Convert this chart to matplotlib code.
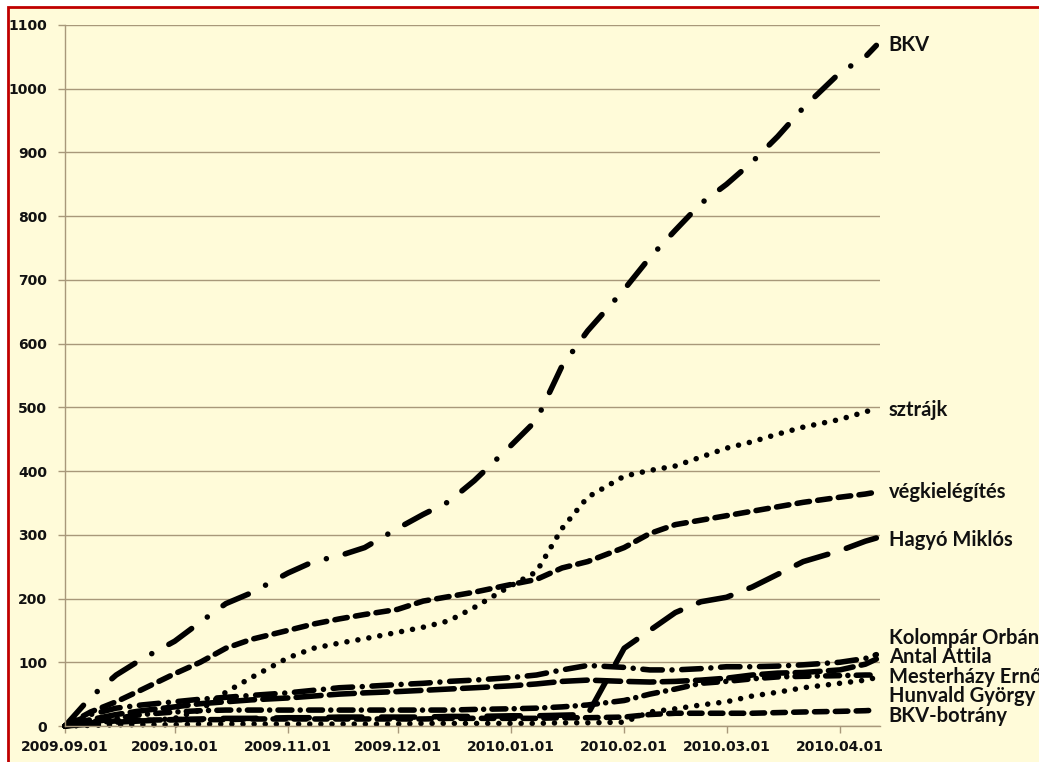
import matplotlib
matplotlib.use("Agg")
import matplotlib.pyplot as plt
import matplotlib.dates as mdates
from matplotlib.patches import Rectangle
import pandas as pd

# Kumulált említések száma (leolvasott értékek)
datumok = ["2009-09-01", "2009-09-08", "2009-09-15", "2009-09-22",
           "2009-10-01", "2009-10-08", "2009-10-15", "2009-10-22",
           "2009-11-01", "2009-11-08", "2009-11-15", "2009-11-22",
           "2009-12-01", "2009-12-08", "2009-12-15", "2009-12-22",
           "2010-01-01", "2010-01-08", "2010-01-15", "2010-01-22",
           "2010-02-01", "2010-02-08", "2010-02-15", "2010-02-22",
           "2010-03-01", "2010-03-08", "2010-03-15", "2010-03-22",
           "2010-04-01", "2010-04-08", "2010-04-11"]

bkv = [0, 45, 80, 105, 133, 163, 192, 209, 240, 258, 267, 280, 310, 332, 352, 385,
       440, 480, 565, 620, 685, 735, 778, 820, 850, 885, 925, 970, 1025, 1050, 1068]
sztrajk = [0, 2, 4, 7, 12, 25, 53, 76, 107, 122, 130, 137, 147, 155, 165, 186,
           220, 242, 310, 359, 392, 401, 408, 422, 436, 446, 458, 469, 481, 493, 498]
vegkielegites = [0, 22, 38, 57, 82, 100, 122, 136, 150, 160, 168, 175, 183, 196, 203, 210,
                 222, 230, 248, 258, 280, 302, 316, 323, 330, 337, 344, 351, 359, 364, 367]
hagyo = [0, 3, 6, 8, 10, 11, 12, 12, 13, 13, 14, 14, 14, 14, 15, 15,
         16, 16, 17, 18, 122, 150, 178, 195, 202, 218, 238, 258, 275, 290, 295]
kolompar = [0, 18, 28, 33, 38, 42, 45, 48, 52, 56, 60, 62, 65, 67, 70, 72,
            76, 80, 88, 95, 92, 88, 88, 90, 93, 93, 94, 96, 100, 106, 112]
antal = [0, 10, 18, 24, 30, 35, 38, 41, 44, 47, 50, 52, 54, 56, 58, 60,
         63, 66, 70, 72, 70, 69, 70, 72, 75, 80, 83, 84, 88, 97, 105]
mesterhazy = [0, 6, 12, 18, 22, 24, 25, 25, 25, 25, 25, 25, 25, 25, 25, 26,
              27, 28, 30, 33, 40, 50, 58, 67, 70, 74, 77, 78, 79, 80, 80]
hunvald = [0, 1, 2, 2, 2, 3, 3, 3, 3, 3, 3, 3, 3, 4, 4, 4,
           4, 4, 5, 5, 6, 22, 27, 33, 38, 47, 53, 60, 67, 72, 76]
bkv_botrany = [0, 5, 8, 9, 10, 10, 10, 11, 11, 11, 11, 11, 11, 11, 12, 12,
               12, 12, 13, 13, 14, 18, 20, 20, 20, 20, 21, 22, 23, 24, 25]

nevek = ["BKV", "sztrájk", "végkielégítés", "Hagyó Miklós", "Kolompár Orbán",
         "Antal Attila", "Mesterházy Ernő", "Hunvald György", "BKV-botrány"]
sorozatok = [bkv, sztrajk, vegkielegites, hagyo, kolompar, antal, mesterhazy, hunvald, bkv_botrany]

# vonalstílusok (pontban) és a feliratok helye
stilusok = [(0, (20, 14, 0.01, 14)), (0, (0.01, 8)), (0, (9, 6)), (0, (24, 14)),
            (0, (14, 7, 0.01, 7)), (0, (18, 6)), (0, (10, 6, 0.01, 6)),
            (0, (0.01, 8)), (0, (9, 6))]
felirat_y = [1068, 496, 367, 292, 138, 108, 77, 47, 16]

plt.rcParams['lines.scale_dashes'] = False
hatter = '#FFFBD9'
racs = '#A8987A'

fig = plt.figure(figsize=(10.39, 7.62), dpi=100, facecolor='white')
fig.patches.append(Rectangle((8 / 1039, -0.02), 1.05, 1 - 7 / 762 + 0.02,
                             transform=fig.transFigure, facecolor=hatter,
                             edgecolor='#C00000', linewidth=2, zorder=-10))
ax = fig.add_axes([65 / 1039, 1 - 726 / 762, (880 - 65) / 1039, (726 - 25) / 762])
ax.set_facecolor(hatter)

x = pd.to_datetime(datumok)
for nev, ertekek, ls, fy in zip(nevek, sorozatok, stilusok, felirat_y):
    vonal, = ax.plot(x, ertekek, color='black', linewidth=4, linestyle=ls,
                     dash_capstyle='round', solid_capstyle='round', clip_on=False)
    ax.annotate(nev, xy=(x[-1], fy), xytext=(9, 0), textcoords='offset points',
                ha='left', va='center', fontsize=14.5, fontweight='bold',
                family=['Lato', 'DejaVu Sans'], color='#111111', annotation_clip=False)

ax.set_ylim(0, 1100)
ax.set_yticks(range(0, 1101, 100))
ax.set_xlim(pd.Timestamp('2009-09-01'), pd.Timestamp('2010-04-12'))
ax.xaxis.set_major_locator(mdates.MonthLocator())
ax.xaxis.set_major_formatter(mdates.DateFormatter('%Y.%m.%d'))

ax.grid(axis='y', color=racs, linewidth=1)
ax.set_axisbelow(True)
for s in ['top', 'right']:
    ax.spines[s].set_visible(False)
for s in ['left', 'bottom']:
    ax.spines[s].set_color(racs)
    ax.spines[s].set_linewidth(1)
ax.tick_params(axis='both', colors=racs, length=5, width=1, labelcolor='#111111')
ax.tick_params(axis='y', pad=8)
ax.tick_params(axis='x', pad=5)
for lab in ax.get_xticklabels() + ax.get_yticklabels():
    lab.set_fontweight('bold')
    lab.set_fontsize(10)

fig.savefig('out.png', dpi=100, facecolor=fig.get_facecolor())
